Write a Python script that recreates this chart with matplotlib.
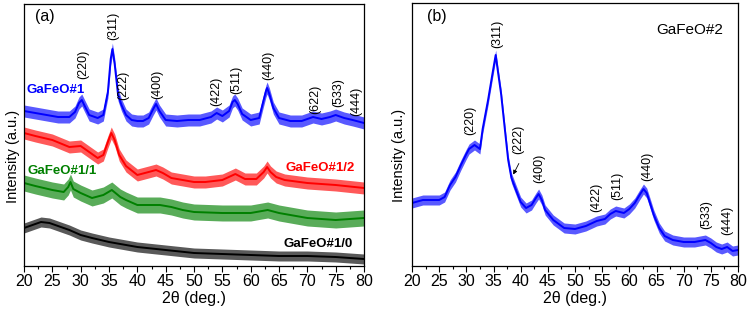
import numpy as np
import matplotlib.pyplot as plt
from matplotlib.ticker import MultipleLocator

plt.rcParams['font.family'] = ['Liberation Sans', 'DejaVu Sans']

# ---- panel (a): GaFeO#1 series, intensity in arbitrary units ----
tt_1 = [20, 22, 24, 26, 28, 29, 29.7, 30.2, 30.8, 31.5, 33, 34, 34.8, 35.3, 35.6, 36, 36.6,
        37.2, 38, 39, 40, 41, 42, 42.8, 43.3, 43.9, 45, 47, 49, 51, 53, 54, 55, 56.2, 56.8,
        57.2, 57.7, 58.5, 60, 61.5, 62.2, 62.7, 62.9, 63.3, 64, 65, 67, 69, 71, 72.5, 74, 75,
        76.5, 78, 80]
int_1 = [155, 153, 151, 149, 149, 154, 163, 166, 159, 151, 148, 151, 174, 207, 217, 202, 171,
         161, 151, 146, 145, 145, 148, 157, 162, 155, 146, 145, 146, 146, 149, 153, 150, 155, 164,
         166, 162, 152, 146, 148, 164, 175, 178, 172, 158, 148, 145, 145, 149, 147, 149, 151,
         148, 146, 143]

tt_12 = [20, 22, 25, 28, 30, 31, 33, 34, 34.8, 35.4, 36, 36.8, 38, 40, 42, 43.3, 44.5, 46, 48,
         50, 52, 55, 57.3, 59, 61, 62.3, 62.9, 63.5, 64.5, 66, 70, 75, 80]
int_12 = [133, 130, 126, 119, 120, 116, 108, 111, 124, 133, 126, 111, 100, 91, 94, 96, 93, 88,
          86, 84, 84, 86, 92, 87, 87, 94, 99, 94, 89, 86, 83, 81, 78]

tt_11 = [20, 22, 25, 27, 27.8, 28.2, 28.7, 30, 32, 34, 35.5, 37, 38, 40, 42, 44, 46, 48, 50,
         55, 60, 63, 65, 68, 70, 75, 80]
int_11 = [83, 80, 76, 74, 79, 84, 77, 73, 68, 71, 76, 69, 66, 61, 61, 61, 59, 56, 54, 53, 53,
          56, 53, 50, 48, 46, 48]

tt_10 = [20, 22, 23, 24.5, 26, 28, 30, 32, 35, 38, 40, 45, 50, 55, 60, 65, 70, 75, 80]
int_10 = [38, 42, 44, 43, 40, 36, 31, 28, 24, 21, 19, 16, 13, 12, 11, 10, 10, 9, 7]

# ---- panel (b): GaFeO#2 ----
tt_2 = [20, 22, 24, 25, 26, 27, 28, 29, 30, 30.5, 31.5, 32.5, 33, 34, 34.8, 35.4, 35.8, 36.4,
        37.2, 37.7, 38.3, 39, 40, 41, 42, 42.8, 43.3, 43.9, 44.5, 46, 48, 50, 52, 54, 55.5,
        56.5, 57.5, 59, 60, 61, 62, 62.6, 63.2, 63.8, 64.5, 65.5, 66.5, 68, 70, 72, 74, 75,
        76, 77, 78, 79, 80]
int_2 = [63, 66, 66, 66, 69, 81, 89, 101, 112, 117, 121, 117, 137, 166, 192, 211, 195, 172,
         131, 106, 88, 78, 64, 58, 61, 68, 72, 66, 56, 46, 38, 37, 40, 45, 47, 52, 55, 53, 57,
         63, 72, 77, 73, 63, 51, 38, 30, 26, 24, 24, 26, 23, 19, 17, 19, 15, 16]

# noise band half-widths
noise_a = {"GaFeO#1": 6, "GaFeO#1/2": 6, "GaFeO#1/1": 8, "GaFeO#1/0": 5}
noise_b = 5

hkl_a = ["(220)", "(311)", "(222)", "(400)", "(422)", "(511)", "(440)", "(622)", "(533)", "(444)"]
hkl_a_x = [30.4, 35.7, 37.6, 43.5, 53.9, 57.4, 63.1, 71.4, 75.4, 78.6]
hkl_a_y = [202, 240, 181, 182, 175, 186, 201, 167, 173, 165]

hkl_b = ["(220)", "(311)", "(222)", "(400)", "(422)", "(511)", "(440)", "(533)", "(444)"]
hkl_b_x = [30.7, 35.6, 39.5, 43.4, 54.0, 57.7, 63.3, 74.1, 78.0]
hkl_b_y = [146, 232, 127, 98, 69, 80, 100, 51, 46]

W, H = 749, 312
fig = plt.figure(figsize=(W / 100, H / 100), dpi=100)
ax1 = fig.add_axes([24 / W, 46 / H, 340 / W, 262 / H])
ax2 = fig.add_axes([412 / W, 46 / H, 326 / W, 263 / H])


def band(ax, x, y, hw, color):
    x = np.array(x, float)
    y = np.array(y, float)
    ax.fill_between(x, y - hw, y + hw, color=color, lw=0, alpha=0.65)
    ax.plot(x, y, color=color, lw=1.4)


band(ax1, tt_10, int_10, noise_a["GaFeO#1/0"], "black")
band(ax1, tt_11, int_11, noise_a["GaFeO#1/1"], "#008000")
band(ax1, tt_12, int_12, noise_a["GaFeO#1/2"], "#ff0000")
band(ax1, tt_1, int_1, noise_a["GaFeO#1"], "#0000ff")
band(ax2, tt_2, int_2, noise_b, "#0000ff")

for ax, top in [(ax1, 262), (ax2, 263)]:
    ax.set_xlim(20, 80)
    ax.set_ylim(0, top)
    ax.set_yticks([])
    ax.xaxis.set_major_locator(MultipleLocator(5))
    ax.xaxis.set_minor_locator(MultipleLocator(2.5))
    ax.tick_params(axis='x', which='major', direction='out', length=4, width=0.8,
                   labelsize=11.5, pad=2)
    ax.tick_params(axis='x', which='minor', direction='out', length=2.5, width=0.8)
    for s in ax.spines.values():
        s.set_linewidth(0.9)
    ax.set_xlabel("2θ (deg.)", fontsize=11.5, labelpad=1)
    ax.set_ylabel("Intensity (a.u.)", fontsize=10.5)

ax1.yaxis.set_label_coords(-0.012, 0.42)
ax2.yaxis.set_label_coords(-0.018, 0.42)

for lab, x, y in zip(hkl_a, hkl_a_x, hkl_a_y):
    ax1.text(x, y, lab, rotation=90, ha='center', va='center', fontsize=9)
for lab, x, y in zip(hkl_b, hkl_b_x, hkl_b_y):
    ax2.text(x, y, lab, rotation=90, ha='center', va='center', fontsize=9)

ax2.annotate("", xy=(38.4, 89), xytext=(39.9, 105),
             arrowprops=dict(arrowstyle='-|>', color='black', lw=0.6, mutation_scale=6))

ax1.text(21.9, 249, "(a)", fontsize=11.5, ha='left', va='center')
ax2.text(22.8, 249, "(b)", fontsize=11.5, ha='left', va='center')
ax2.text(77.2, 236, "GaFeO#2", fontsize=11, ha='right', va='center')

ax1.text(20.5, 176, "GaFeO#1", color='#0000ff', fontsize=9.5, fontweight='bold', va='center')
ax1.text(78.4, 98, "GaFeO#1/2", color='#ff0000', fontsize=9.5, fontweight='bold', ha='right', va='center')
ax1.text(20.7, 95, "GaFeO#1/1", color='#008000', fontsize=9.5, fontweight='bold', va='center')
ax1.text(78.1, 22, "GaFeO#1/0", color='black', fontsize=9.5, fontweight='bold', ha='right', va='center')

fig.savefig("out.png", dpi=100)
